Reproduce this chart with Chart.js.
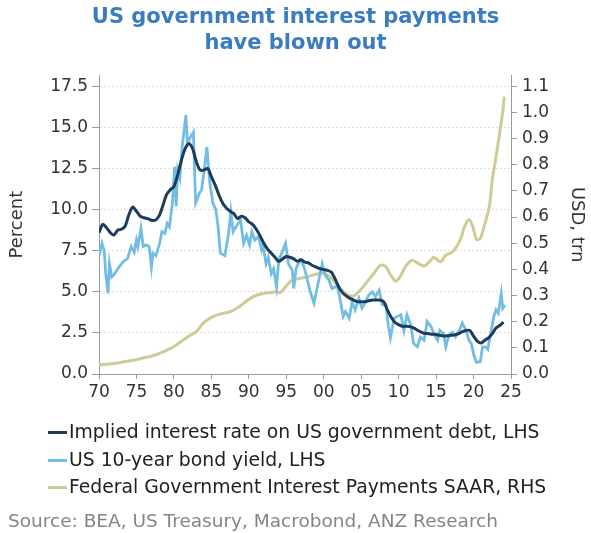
<!DOCTYPE html>
<html>
<head>
<meta charset="utf-8">
<script src="https://cdn.jsdelivr.net/npm/chart.js@4/dist/chart.umd.min.js"></script>
<style>
  html, body { margin: 0; padding: 0; background: #fff; }
  #wrap { position: relative; width: 591px; height: 533px; overflow: hidden;
          font-family: "DejaVu Sans", Verdana, sans-serif; }
  #c { position: absolute; left: 0; top: 0; }
  .key { position: absolute; left: 48px; height: 22px; line-height: 22px;
         font-size: 18.8px; color: #222; white-space: nowrap; }
  .key i { display: inline-block; width: 19px; height: 3px; vertical-align: middle; margin-right: 2px; }
  #src { position: absolute; left: 8px; top: 510px; line-height: 22px; font-size: 18.5px;
         color: #858585; white-space: nowrap; }
</style>
</head>
<body>
<div id="wrap">
  <canvas id="c" width="591" height="533"></canvas>
  <div id="legend"></div>
  <div id="src">Source: BEA, US Treasury, Macrobond, ANZ Research</div>
</div>
<script>
// Series names and colours
const seriesNames = [
  'Implied interest rate on US government debt, LHS',
  'US 10-year bond yield, LHS',
  'Federal Government Interest Payments SAAR, RHS'
];
const seriesColors = ['#1d3c5c', '#72bde4', '#cfcb94'];

// Implied interest rate on US government debt (%), by decimal year
const implYears = [
  1970.0, 1970.5, 1971.0, 1971.5, 1972.0, 1972.5, 1973.0, 1973.5, 1974.0, 1974.5,
  1975.0, 1975.5, 1976.0, 1976.5, 1977.0, 1977.5, 1978.0, 1978.5, 1979.0, 1979.5,
  1980.0, 1980.5, 1981.0, 1981.5, 1982.0, 1982.5, 1983.0, 1983.5, 1984.0, 1984.5,
  1985.0, 1985.5, 1986.0, 1986.5, 1987.0, 1987.5, 1988.0, 1988.5, 1989.0, 1989.5,
  1990.0, 1990.5, 1991.0, 1991.5, 1992.0, 1992.5, 1993.0, 1993.5, 1994.0, 1994.5,
  1995.0, 1995.5, 1996.0, 1996.5, 1997.0, 1997.5, 1998.0, 1998.5, 1999.0, 1999.5,
  2000.0, 2000.5, 2001.0, 2001.5, 2002.0, 2002.5, 2003.0, 2003.5, 2004.0, 2004.5,
  2005.0, 2005.5, 2006.0, 2006.5, 2007.0, 2007.5, 2008.0, 2008.5, 2009.0, 2009.5,
  2010.0, 2010.5, 2011.0, 2011.5, 2012.0, 2012.5, 2013.0, 2013.5, 2014.0, 2014.5,
  2015.0, 2015.5, 2016.0, 2016.5, 2017.0, 2017.5, 2018.0, 2018.5, 2019.0, 2019.5,
  2020.0, 2020.5, 2021.0, 2021.5, 2022.0, 2022.5, 2023.0, 2023.5, 2024.0
];
const implRate = [
  8.6, 9.1, 8.9, 8.6, 8.45, 8.75, 8.8, 9.0, 9.7, 10.15,
  9.9, 9.6, 9.5, 9.45, 9.35, 9.35, 9.6, 10.2, 10.9, 11.2,
  11.4, 12.1, 13.0, 13.7, 14.0, 13.7, 12.9, 12.4, 12.4, 12.5,
  12.0, 11.5, 10.9, 10.4, 10.1, 9.9, 9.75, 9.45, 9.6, 9.5,
  9.25, 9.1, 8.8, 8.4, 7.95, 7.6, 7.35, 7.1, 6.85, 7.0,
  7.15, 7.1, 7.0, 6.85, 6.95, 6.8, 6.75, 6.6, 6.5, 6.4,
  6.35, 6.3, 6.2, 5.8, 5.3, 4.95, 4.75, 4.6, 4.5, 4.4,
  4.4, 4.4, 4.45, 4.5, 4.5, 4.5, 4.4, 3.9, 3.45, 3.15,
  3.0, 2.9, 2.9, 2.88, 2.8, 2.67, 2.55, 2.47, 2.45, 2.42,
  2.4, 2.35, 2.31, 2.32, 2.35, 2.38, 2.45, 2.57, 2.65, 2.65,
  2.3, 2.0, 1.88, 2.05, 2.2, 2.45, 2.8, 2.95, 3.15
];

// US 10-year Treasury yield (%), by decimal year
const yieldYears = [
  1970.0, 1970.4, 1970.7, 1970.9, 1971.2, 1971.4, 1971.7, 1972.1, 1972.5, 1973.0,
  1973.4, 1973.8, 1974.3, 1974.7, 1975.0, 1975.2, 1975.6, 1975.9, 1976.3, 1976.7,
  1977.0, 1977.2, 1977.6, 1978.1, 1978.4, 1978.8, 1979.1, 1979.4, 1979.8, 1980.1,
  1980.3, 1980.5, 1980.8, 1981.1, 1981.6, 1981.8, 1982.2, 1982.6, 1982.9, 1983.4,
  1983.7, 1984.1, 1984.4, 1984.8, 1985.2, 1985.6, 1985.9, 1986.2, 1986.8, 1987.3,
  1987.6, 1987.9, 1988.4, 1988.9, 1989.3, 1989.7, 1990.1, 1990.4, 1990.8, 1991.3,
  1991.7, 1991.9, 1992.3, 1992.6, 1993.0, 1993.3, 1993.7, 1994.0, 1994.4, 1994.9,
  1995.3, 1995.8, 1996.0, 1996.3, 1996.8, 1997.2, 1997.5, 1998.2, 1998.7, 1999.1,
  1999.8, 2000.2, 2000.7, 2001.1, 2001.6, 2001.8, 2002.2, 2002.6, 2002.9, 2003.4,
  2003.8, 2004.2, 2004.7, 2005.1, 2005.6, 2006.0, 2006.5, 2006.9, 2007.4, 2007.8,
  2008.3, 2008.6, 2008.9, 2009.4, 2009.8, 2010.3, 2010.7, 2011.1, 2011.6, 2012.0,
  2012.5, 2012.9, 2013.4, 2013.8, 2014.3, 2014.7, 2015.2, 2015.5, 2016.0, 2016.3,
  2016.7, 2017.2, 2017.6, 2018.1, 2018.5, 2019.0, 2019.4, 2019.7, 2020.1, 2020.4,
  2020.9, 2021.2, 2021.6, 2021.9, 2022.3, 2022.7, 2023.0, 2023.3, 2023.7, 2023.9,
  2024.2
];
const yieldRate = [
  7.2, 7.95, 7.5, 6.1, 4.9, 6.7, 5.9, 6.1, 6.4, 6.7,
  6.9, 7.0, 7.75, 7.4, 8.15, 7.75, 8.85, 7.75, 7.85, 7.75,
  6.5, 7.35, 7.2, 7.95, 8.65, 8.55, 9.15, 8.95, 10.4, 12.6,
  10.2, 12.4, 11.9, 13.8, 15.75, 14.0, 14.4, 14.7, 10.4, 11.0,
  11.2, 12.6, 13.8, 11.6, 10.4, 10.0, 8.95, 7.35, 7.2, 8.55,
  9.85, 8.65, 9.05, 9.35, 7.95, 8.45, 7.85, 8.65, 8.15, 8.35,
  7.55, 7.85, 6.7, 7.1, 6.1, 6.4, 5.3, 6.95, 7.35, 7.95,
  6.7, 6.3, 5.2, 6.4, 6.95, 6.7, 6.3, 5.0, 4.3, 5.2,
  6.7, 6.0, 5.7, 5.2, 5.3, 5.4, 4.5, 3.5, 3.8, 3.4,
  4.4, 3.9, 4.6, 4.0, 4.4, 4.8, 5.0, 4.7, 5.1, 4.2,
  4.2, 3.0, 2.2, 3.4, 3.5, 3.6, 2.65, 3.6, 3.0, 1.85,
  1.65, 2.25, 2.05, 3.2, 2.9, 2.45, 2.05, 2.65, 2.45, 1.65,
  2.35, 2.55, 2.25, 2.65, 3.1, 2.65, 2.05, 1.85, 1.05, 0.7,
  0.75, 1.65, 1.65, 1.5, 2.5, 3.5, 3.9, 3.7, 4.9, 4.0,
  4.2
];

// Federal government interest payments, SAAR (USD trn), by decimal year
const payYears = [
  1970.0, 1971.0, 1972.0, 1973.0, 1974.0, 1975.0, 1976.0, 1977.0, 1978.0, 1979.0,
  1980.0, 1981.0, 1982.0, 1983.0, 1983.9, 1984.8, 1985.7, 1986.6, 1987.5, 1988.4,
  1989.3, 1990.2, 1991.1, 1992.0, 1992.9, 1993.8, 1994.2, 1994.9, 1995.8, 1996.9,
  1997.8, 1999.1, 2000.0, 2000.9, 2001.8, 2002.7, 2003.6, 2004.2, 2004.9, 2005.8,
  2006.7, 2007.6, 2008.3, 2008.9, 2009.6, 2010.2, 2010.9, 2011.8, 2012.5, 2013.4,
  2014.3, 2014.7, 2015.6, 2016.3, 2017.0, 2017.6, 2018.3, 2018.8, 2019.4, 2019.9,
  2020.4, 2020.9, 2021.4, 2022.1, 2022.5, 2023.0, 2023.4, 2023.9, 2024.1
];
const payments = [
  0.035, 0.037, 0.040, 0.045, 0.050, 0.055, 0.062, 0.068, 0.078, 0.090,
  0.105, 0.125, 0.145, 0.162, 0.194, 0.213, 0.225, 0.232, 0.238, 0.251,
  0.270, 0.289, 0.302, 0.308, 0.311, 0.314, 0.311, 0.333, 0.359, 0.366,
  0.372, 0.382, 0.385, 0.369, 0.340, 0.314, 0.298, 0.302, 0.321, 0.353,
  0.385, 0.416, 0.410, 0.380, 0.355, 0.372, 0.410, 0.435, 0.425, 0.413,
  0.435, 0.446, 0.429, 0.454, 0.463, 0.480, 0.518, 0.563, 0.591, 0.563,
  0.514, 0.518, 0.563, 0.639, 0.741, 0.830, 0.906, 1.002, 1.060
];

const FONT = 'DejaVu Sans';
const AXIS = '#9a9a9a';
const TEXT = '#333333';
const toPoints = (xs, ys) => xs.map((x, i) => ({ x: x, y: ys[i] }));

new Chart(document.getElementById('c'), {
  type: 'line',
  data: {
    datasets: [
      { label: seriesNames[0], data: toPoints(implYears, implRate), yAxisID: 'y',
        borderColor: seriesColors[0], borderWidth: 3, pointRadius: 0, tension: 0.3 },
      { label: seriesNames[1], data: toPoints(yieldYears, yieldRate), yAxisID: 'y',
        borderColor: seriesColors[1], borderWidth: 2.8, pointRadius: 0, tension: 0 },
      { label: seriesNames[2], data: toPoints(payYears, payments), yAxisID: 'y2',
        borderColor: seriesColors[2], borderWidth: 3, pointRadius: 0, tension: 0.3 }
    ]
  },
  options: {
    responsive: false,
    animation: false,
    devicePixelRatio: 1,
    layout: { padding: 0 },
    plugins: {
      legend: { display: false },
      tooltip: { enabled: false },
      title: {
        display: true,
        text: ['US government interest payments', 'have blown out'],
        color: '#3a7cbf',
        font: { family: FONT, size: 21, weight: 'bold', lineHeight: 1.22 },
        padding: { top: 5, bottom: 19 }
      }
    },
    scales: {
      x: {
        type: 'linear', min: 1970, max: 2025,
        afterFit: (s) => { s.height = 533 - 374; },
        ticks: { stepSize: 5, autoSkip: false, maxRotation: 0, padding: 3, color: TEXT,
                 font: { family: FONT, size: 17 },
                 callback: (v) => String(v % 100).padStart(2, '0') },
        grid: { drawOnChartArea: false, tickLength: 5, tickColor: AXIS },
        border: { color: AXIS, width: 1 }
      },
      y: {
        position: 'left', min: 0, max: 18.17,
        afterFit: (s) => { s.width = 99; },
        ticks: { stepSize: 2.5, includeBounds: false, padding: 4, color: TEXT,
                 font: { family: FONT, size: 17 },
                 callback: (v) => v.toFixed(1) },
        grid: { color: '#dcdcdc', tickColor: AXIS, tickLength: 7 },
        border: { color: AXIS, width: 1, dash: [2, 2] },
        title: { display: true, text: 'Percent', color: TEXT,
                 font: { family: FONT, size: 18 }, padding: { top: 7, bottom: 0 } }
      },
      y2: {
        position: 'right', min: 0, max: 1.142,
        afterFit: (s) => { s.width = 80; },
        ticks: { stepSize: 0.1, includeBounds: false, padding: 5, color: TEXT,
                 font: { family: FONT, size: 17 },
                 callback: (v) => v.toFixed(1) },
        grid: { drawOnChartArea: false, tickColor: AXIS, tickLength: 6 },
        border: { color: AXIS, width: 1 },
        title: { display: true, text: 'USD, trn', color: TEXT,
                 font: { family: FONT, size: 18 }, padding: { top: 4, bottom: 0 } }
      }
    }
  }
});

// Legend rows beneath the plot
const legend = document.getElementById('legend');
const rowCentres = [432, 459.5, 487];
seriesNames.forEach((name, i) => {
  const row = document.createElement('div');
  row.className = 'key';
  row.style.top = (rowCentres[i] - 11) + 'px';
  const swatch = document.createElement('i');
  swatch.style.background = seriesColors[i];
  row.appendChild(swatch);
  row.appendChild(document.createTextNode(name));
  legend.appendChild(row);
});
</script>
</body>
</html>
